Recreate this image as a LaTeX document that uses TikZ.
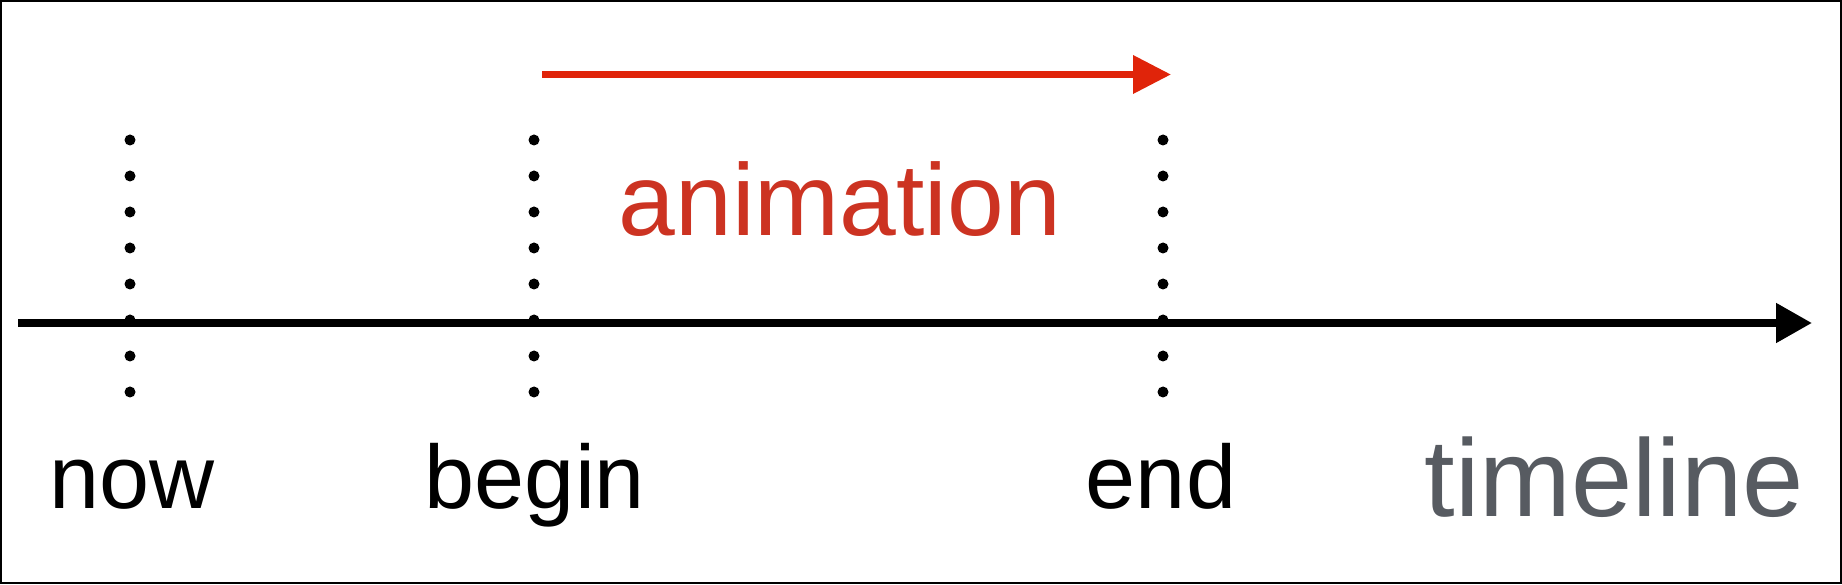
\documentclass[tikz,border=0pt]{standalone}
\usepackage{fontspec}
\setmainfont{Liberation Sans}
\usetikzlibrary{arrows.meta}
\definecolor{arrowred}{HTML}{E0240A}
\definecolor{textred}{HTML}{CC3322}
\definecolor{tlgray}{HTML}{575B61}
\begin{document}
\begin{tikzpicture}[x=1pt,y=1pt,
  lbl/.style={anchor=base,inner sep=0pt,font=\fontsize{90}{100}\selectfont},
  axisline/.style={line width=8pt,-{Triangle[length=36pt,width=38pt]}},
  animarrow/.style={arrowred,line width=7pt,-{Triangle[length=38pt,width=37pt]}},
  dotmark/.style={fill=black,draw=none}]
\useasboundingbox (0,0) rectangle (1842,584);
\draw[line width=2pt] (1,1) rectangle (1841,583);
% timeline axis
\coordinate (axL) at (18,261);
\coordinate (axR) at (1812,261);
\draw[axisline] (axL) -- (axR);
% animation arrow
\coordinate (anL) at (542,509.5);
\coordinate (anR) at (1171,509.5);
\draw[animarrow] (anL) -- (anR);
% dotted markers
\foreach \xx in {130,534,1163}{
  \foreach \yy in {444,408,372,336,300,264,228,192}{
    \fill[dotmark] (\xx,\yy) circle (5.5pt);
  }
}
% labels
\node[lbl] (now) at (132,76) {now};
\node[lbl] (begin) at (535,76) {begin};
\node[lbl] (end) at (1161,76) {end};
\node[lbl,text=tlgray,font=\fontsize{110}{120}\selectfont] (timeline) at (1614,68) {timeline};
\node[lbl,text=textred,font=\fontsize{102}{112}\selectfont] (anim) at (840,348) {animation};
\end{tikzpicture}
\end{document}
